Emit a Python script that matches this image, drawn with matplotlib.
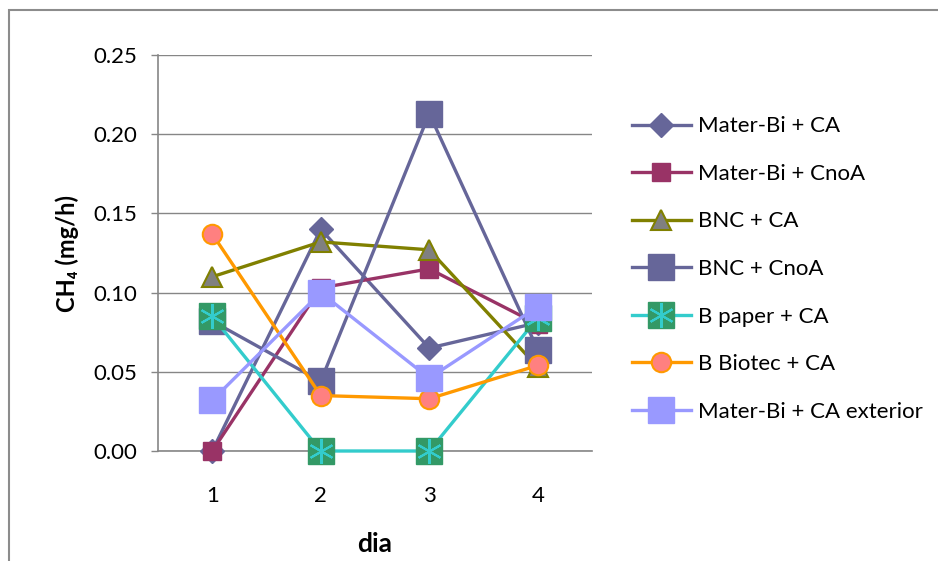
import matplotlib
matplotlib.use("Agg")
import matplotlib.pyplot as plt
from matplotlib.legend_handler import HandlerTuple
from matplotlib.patches import Rectangle

plt.rcParams['font.family'] = ['Lato', 'DejaVu Sans']

days = [1, 2, 3, 4]
day_labels = ["1", "2", "3", "4"]

mater_bi_ca = [0.000, 0.140, 0.065, 0.081]
mater_bi_cnoa = [0.000, 0.103, 0.115, 0.080]
bnc_ca = [0.110, 0.132, 0.127, 0.053]
bnc_cnoa = [0.082, 0.044, 0.213, 0.064]
b_paper_ca = [0.085, 0.000, 0.000, 0.084]
b_biotec_ca = [0.137, 0.035, 0.033, 0.054]
mater_bi_ca_ext = [0.032, 0.100, 0.046, 0.091]

series_names = [
    "Mater-Bi + CA",
    "Mater-Bi + CnoA",
    "BNC + CA",
    "BNC + CnoA",
    "B paper + CA",
    "B Biotec + CA",
    "Mater-Bi + CA exterior",
]

W, H = 938, 561
fig = plt.figure(figsize=(W / 100, H / 100), dpi=100)
ax = fig.add_axes([158 / W, 1 - 451 / H, (592 - 158) / W, (451 - 55) / H])

# outer chart frame
fig.patches.append(Rectangle((9 / W, -0.1), 1.2, 1 - 9.5 / H + 0.1,
                             transform=fig.transFigure, fill=False,
                             edgecolor="#8c8c8c", linewidth=1.5))

lw = 2.4
handles = []

h, = ax.plot(days, mater_bi_ca, color="#666699", lw=lw, marker="D",
             ms=12, mfc="#666699", mec="#666699", zorder=3)
handles.append(h)

h, = ax.plot(days, mater_bi_cnoa, color="#993366", lw=lw, marker="s",
             ms=13, mfc="#993366", mec="#993366", zorder=4)
handles.append(h)

h, = ax.plot(days, bnc_ca, color="#808000", lw=lw, marker="^",
             ms=14, mfc="#808080", mec="#808000", mew=1.5, zorder=5)
handles.append(h)

h, = ax.plot(days, bnc_cnoa, color="#666699", lw=lw, marker="s",
             ms=19, mfc="#666699", mec="#666699", zorder=6)
handles.append(h)

h1, = ax.plot(days, b_paper_ca, color="#33CCCC", lw=lw, marker="s",
              ms=19, mfc="#339966", mec="#339966", zorder=7)
h2, = ax.plot(days, b_paper_ca, ls="none", marker=(6, 2, 0),
              ms=18, mec="#33CCCC", mew=1.5, zorder=7.5)
handles.append((h1, h2))

h, = ax.plot(days, b_biotec_ca, color="#FF9900", lw=lw, marker="o",
             ms=14, mfc="#FF8080", mec="#FF9900", mew=1.5, zorder=8)
handles.append(h)

h, = ax.plot(days, mater_bi_ca_ext, color="#9999FF", lw=lw, marker="s",
             ms=19, mfc="#9999FF", mec="#9999FF", zorder=9)
handles.append(h)

ax.set_xlim(0.5, 4.5)
ax.set_ylim(0, 0.25)
ax.set_xticks(days)
ax.set_xticklabels(day_labels)
ax.set_yticks([0, 0.05, 0.10, 0.15, 0.20, 0.25])
ax.set_yticklabels(["0.00", "0.05", "0.10", "0.15", "0.20", "0.25"])
ax.tick_params(axis="x", length=0, pad=25, labelsize=16)
ax.tick_params(axis="y", length=5, width=1, color="#868686", pad=10,
               labelsize=16)
ax.yaxis.grid(True, color="#868686", lw=1)
ax.set_axisbelow(True)
for side in ("top", "right"):
    ax.spines[side].set_visible(False)
for side in ("left", "bottom"):
    ax.spines[side].set_color("#868686")
    ax.spines[side].set_linewidth(1.2)
ax.patch.set_alpha(0)
for ln in ax.lines:
    ln.set_clip_on(False)

ax.set_ylabel("CH₄ (mg/h)", fontsize=17, fontweight="bold", labelpad=10)
ax.set_xlabel("dia", fontsize=19, fontweight="bold", labelpad=19)

leg = fig.legend(handles, series_names, loc="center left",
                 bbox_to_anchor=(612 / W, 1 - 269 / H), frameon=False,
                 fontsize=16, handlelength=2.65, handletextpad=0.3,
                 labelspacing=1.24, numpoints=1,
                 handler_map={tuple: HandlerTuple(ndivide=1)})

fig.savefig("out.png", dpi=100)
